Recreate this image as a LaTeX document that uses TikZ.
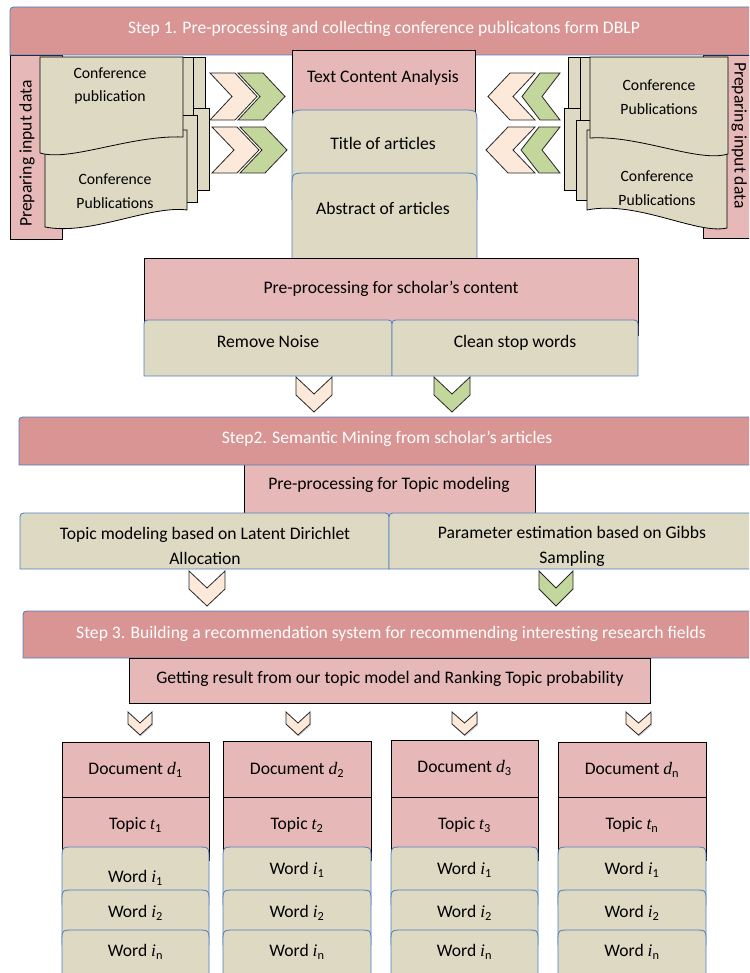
\documentclass[tikz,border=0pt]{standalone}
\usepackage{fontspec}
\setmainfont{Carlito}
\newfontfamily\varfont{Liberation Serif}
\newcommand\Var[2]{{\varfont\itshape #1}\textsubscript{#2}}
\usetikzlibrary{shadows}
\definecolor{bannerfill}{HTML}{D99594}
\definecolor{pinkfill}{HTML}{E6B9B8}
\definecolor{tanfill}{HTML}{DDD9C3}
\definecolor{chevpink}{HTML}{FDE9D9}
\definecolor{chevgreen}{HTML}{C3D69B}
\definecolor{blueline}{HTML}{4F81BD}
\tikzset{
  txtbase/.style={font=\fontsize{17.6}{25}\selectfont, inner sep=0pt, align=center, text height=0.75em, text depth=0.25em},
  txt/.style={txtbase, yshift=-4pt},
  txttwo/.style={font=\fontsize{17.6}{25}\selectfont, inner sep=0pt, align=center},
  doctxt/.style={font=\fontsize{15.7}{23.5}\selectfont, inner sep=0pt, align=center},
  bantxt/.style={txt, text=white},
  banner/.style={fill=bannerfill, draw=blueline, line width=0.8pt},
  pinkbox/.style={fill=pinkfill, draw=black, line width=0.8pt},
  tanbox/.style={fill=tanfill, draw=blueline, line width=0.8pt},
  page/.style={fill=tanfill, draw=black, line width=0.8pt},
  chevp/.style={fill=chevpink, draw=black!85, line width=0.8pt, line join=miter},
  chevg/.style={fill=chevgreen, draw=black!85, line width=0.8pt, line join=miter},
  chevs/.style={chevp, drop shadow={opacity=0.35, shadow xshift=0.8pt, shadow yshift=-1.5pt}},
}
% box with rounded top corners: style, x1, y1, x2, y2, radius
\newcommand\TopRnd[6]{\path[#1] (#2,#5) -- (#2,{#3+#6}) .. controls (#2,#3) .. ({#2+#6},#3) -- ({#4-#6},#3) .. controls (#4,#3) .. (#4,{#3+#6}) -- (#4,#5) -- cycle;}
% banner with rounded top-left corner: x1, y1, y2
\newcommand\Banner[3]{\path[banner] (#1,#3) -- (#1,{#2+8}) .. controls (#1,#2) .. ({#1+8},#2) -- (770,#2) -- (770,#3) -- cycle;}
% chevron pointing right: style, x, y, h, w, d
\newcommand\ChevRight[6]{\path[#1] (#2,#3) -- ({#2+#5-#6},#3) -- ({#2+#5},{#3+#4/2}) -- ({#2+#5-#6},{#3+#4}) -- (#2,{#3+#4}) -- ({#2+#6},{#3+#4/2}) -- cycle;}
% chevron pointing left: style, xtip, y, h, w, d
\newcommand\ChevLeft[6]{\path[#1] (#2,{#3+#4/2}) -- ({#2+#6},#3) -- ({#2+#5},#3) -- ({#2+#5-#6},{#3+#4/2}) -- ({#2+#5},{#3+#4}) -- ({#2+#6},{#3+#4}) -- cycle;}
% chevron pointing down: style, x, y, w, h, d
\newcommand\ChevDown[6]{\path[#1] (#2,#3) -- ({#2+#4/2},{#3+#6}) -- ({#2+#4},#3) -- ({#2+#4},{#3+#5-#6}) -- ({#2+#4/2},{#3+#5}) -- (#2,{#3+#5-#6}) -- cycle;}
\begin{document}
\begin{tikzpicture}[x=1pt,y=-1pt]
\useasboundingbox (0,0) rectangle (749,973);
\clip (0,0) rectangle (749,973);

% ---- side boxes "Preparing input data"
\draw[fill=pinkfill, draw=black, line width=0.8pt] (10,55) rectangle (62,239);
\draw[fill=pinkfill, draw=black, line width=0.8pt] (703,55) rectangle (770,238);
\node[txtbase, rotate=90, anchor=west] (prepL) at (29,227) {Preparing input data};
\node[txtbase, rotate=-90, anchor=west] (prepR) at (737,62) {Preparing input data};

% ---- left documents
\draw[page] (60,57) rectangle (205,117);
\draw[page] (60,108) rectangle (209,190);
\draw[page] (50,57) rectangle (193,128);
\draw[page] (52,115) rectangle (197,202);
\draw[page] (45,130) -- (187,130) -- (187,210) .. controls (150,205) and (90,236) .. (45,227) -- cycle;
\draw[page] (40,57) -- (183,57) -- (183,137) .. controls (130,135) and (70,162) .. (40,153) -- cycle;
\node[doctxt] (docL1) at (110,86) {Conference\\publication};
\node[doctxt] (docL2) at (115,191) {Conference\\Publications};

% ---- right documents
\draw[page] (568,57) rectangle (710,118);
\draw[page] (564,108) rectangle (707,190);
\draw[page] (580,57) rectangle (718,128);
\draw[page] (576,120) rectangle (717,200);
\draw[page] (587,130) -- (727,130) -- (727,228) .. controls (697,235) and (637,200) .. (587,210) -- cycle;
\draw[page] (590,57) -- (728,57) -- (728,154) .. controls (698,163) and (640,135) .. (590,138) -- cycle;
\node[doctxt] (docR1) at (659,97) {Conference\\Publications};
\node[doctxt] (docR2) at (657,188) {Conference\\Publications};

% ---- horizontal chevrons
\ChevRight{chevp}{210}{73}{47}{47}{22}
\ChevRight{chevg}{238}{73}{47}{47}{22}
\ChevRight{chevp}{212}{127}{46}{47}{22}
\ChevRight{chevg}{240}{127}{46}{47}{22}
\ChevLeft{chevp}{488}{73}{47}{47}{22}
\ChevLeft{chevg}{522}{73}{47}{38}{18}
\ChevLeft{chevp}{486}{127}{46}{49}{22}
\ChevLeft{chevg}{521}{127}{46}{39}{18}

% ---- Step 1 banner
\Banner{10}{7}{55}
\node[bantxt] (step1) at (384,27) {Step 1. Pre-processing and collecting conference publicatons form DBLP};

% ---- centre column
\draw[pinkbox] (292,50) rectangle (475,140);
\TopRnd{tanbox}{292}{110}{477}{200}{15}
\TopRnd{tanbox}{292}{173}{477}{270}{15}
\node[txt] (tca) at (383,76) {Text Content Analysis};
\node[txt] (title) at (383,143) {Title of articles};
\node[txt] (abstract) at (383,208) {Abstract of articles};

% ---- pre-processing for scholar's content
\draw[pinkbox] (144,258) rectangle (638,335);
\TopRnd{tanbox}{144}{320}{392}{376}{8}
\TopRnd{tanbox}{392}{320}{638}{376}{8}
\node[txt] (prep) at (391,287) {Pre-processing for scholar’s content};
\node[txt] (noise) at (268,341) {Remove Noise};
\node[txt] (stop) at (515,341) {Clean stop words};

\ChevDown{chevp}{296}{377}{36}{35}{17}
\ChevDown{chevg}{434}{377}{36}{35}{17}

% ---- Step 2
\draw[pinkbox] (244,460) rectangle (535,520);
\Banner{19}{417}{465}
\node[bantxt] (step2) at (387,437) {Step2. Semantic Mining from scholar’s articles};
\node[txt] (ptm) at (389,483) {Pre-processing for Topic modeling};
\TopRnd{tanbox}{20}{513}{389}{569}{8}
\TopRnd{tanbox}{389}{513}{770}{569}{8}
\node[txttwo] (lda) at (205,546) {Topic modeling based on Latent Dirichlet\\Allocation};
\node[txttwo] (gibbs) at (572,546) {Parameter estimation based on Gibbs\\Sampling};

\ChevDown{chevp}{189}{571}{36}{35}{17}
\ChevDown{chevg}{539}{571}{34}{35}{17}

% ---- Step 3
\Banner{23}{611}{658}
\node[bantxt] (step3) at (391,632) {Step 3. Building a recommendation system for recommending interesting research fields};
\draw[pinkbox] (129,658) rectangle (650,703);
\node[txt] (result) at (390,677) {Getting result from our topic model and Ranking Topic probability};

\ChevDown{chevs}{128}{712}{24}{23}{11}
\ChevDown{chevs}{286}{712}{24}{23}{11}
\ChevDown{chevs}{452}{712}{25}{23}{11}
\ChevDown{chevs}{626}{712}{25}{23}{11}

% ---- document columns
\foreach \xa/\xb/\yt/\yd/\yw/\s [count=\i] in
  {62/209/742/768/876/1, 223/371/741/768/868/2, 391/538/740/766/868/3, 558/706/742/768/868/n}{
  \draw[pinkbox] (\xa,\yt) rectangle (\xb,797);
  \draw[pinkbox] (\xa,797) rectangle (\xb,860);
  \TopRnd{tanbox}{\xa}{847}{\xb}{905}{12}
  \TopRnd{tanbox}{\xa}{890}{\xb}{945}{12}
  \TopRnd{tanbox}{\xa}{930}{\xb}{990}{12}
  \node[txt] (doc\i) at ({(\xa+\xb)/2},\yd) {Document \Var{d}{\s}};
  \node[txt] (topic\i) at ({(\xa+\xb)/2},823) {Topic \Var{t}{\s}};
  \node[txt] (wa\i) at ({(\xa+\xb)/2},\yw) {Word \Var{i}{1}};
  \node[txt] (wb\i) at ({(\xa+\xb)/2},911) {Word \Var{i}{2}};
  \node[txt] (wn\i) at ({(\xa+\xb)/2},950) {Word \Var{i}{n}};
}
\end{tikzpicture}
\end{document}
